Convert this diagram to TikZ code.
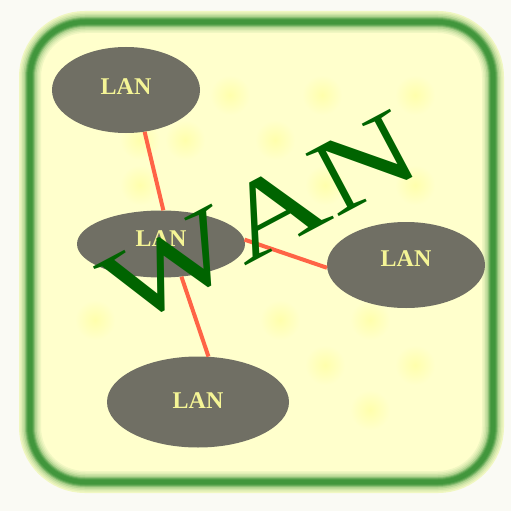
\documentclass[tikz,border=0pt]{standalone}
\usepackage{fontspec}
\setmainfont{Liberation Serif}
\usetikzlibrary{shapes.geometric}
\definecolor{outbg}{RGB}{250,250,244}
\definecolor{inbg}{RGB}{255,255,204}
\definecolor{blob}{RGB}{255,255,172}
\definecolor{frameg}{RGB}{65,150,60}
\definecolor{lanfill}{RGB}{112,111,100}
\definecolor{lantext}{RGB}{245,245,150}
\definecolor{linkc}{RGB}{255,100,70}
\definecolor{wang}{RGB}{0,100,0}
\tikzset{
  lan/.style={ellipse, fill=lanfill, inner sep=0pt, text=lantext,
    font=\fontsize{24}{24}\selectfont\bfseries, text height=16pt, text depth=#1},
  lan/.default=8pt,
  link/.style={draw=linkc, line width=4pt},
  blobdot/.style={inner color=blob, outer color=inbg},
  framepath/.style={rounded corners=55pt}
}
\begin{document}
\begin{tikzpicture}[x=1pt,y=-1pt]
\useasboundingbox (0,0) rectangle (511,511);
\fill[outbg] (0,0) rectangle (511,511);
% frame (soft, layered)
\fill[inbg, framepath] (30,22) rectangle (493,482);
\foreach \w/\p in {22/8,19/16,16/26,13/40,10/58,8/78,6/92,4/100}
  \draw[frameg!\p!inbg, line width=\w pt, framepath] (30,22) rectangle (493,482);
% faint blobs
\foreach \bx/\by in {230/95,322/95,415/95,140/140,185/140,275/140,140/185,325/185,95/320,280/320,370/320,325/365,415/365,370/410,415/185}
  \shade[blobdot] (\bx,\by) circle (20pt);
% LAN nodes
\node[lan=8pt, minimum width=148pt, minimum height=86pt] (l1) at (126,90) {LAN};
\node[lan=12pt, minimum width=168pt, minimum height=67pt] (l2) at (161,244) {LAN};
\node[lan=14pt, minimum width=158pt, minimum height=86pt] (l3) at (406,265) {LAN};
\node[lan=4pt, minimum width=182pt, minimum height=91pt] (l4) at (198,402) {LAN};
% links
\draw[link] (l1.-66) -- (l2.86);
\draw[link] (l2.-58) -- (l4.77);
\draw[link] (l2.3) -- (l3.182);
% WAN
\node[text=wang, rotate=28, inner sep=0pt, font=\fontsize{108}{108}\selectfont\addfontfeatures{Kerning=Off}] (wan) at (260,219) {\scalebox{1.32}[1]{WAN}};
\end{tikzpicture}
\end{document}
